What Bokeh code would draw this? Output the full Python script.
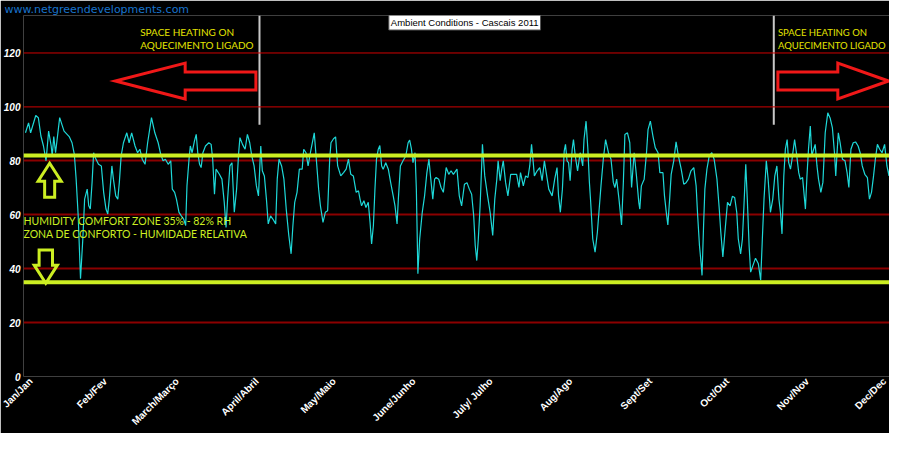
import math
from bokeh.plotting import figure
from bokeh.models import Span, Label, FixedTicker, Range1d
from bokeh.embed import file_html
from bokeh.resources import INLINE

# ---------------- data ----------------
days = [0, 1.2, 2, 4, 5, 6, 7, 8, 9, 10, 10.4, 11, 11.7, 13.3, 15, 17, 18.1, 19, 19.7, 20.5,
        21.4, 22.3, 23, 24, 24.6, 25.2, 25.9, 26.5, 27.1, 28.4, 29.5, 30.4, 31.3, 32, 32.6, 33.6,
        34.2, 35.1, 35.9, 36.5, 37.2, 38.1, 39.4, 40.3, 41.3, 42.6, 43.6, 44.5, 45.4, 46.5, 47.5,
        49, 50.3, 51.6, 52.6, 53.5, 54.4, 55.5, 56.5, 57.1, 58, 58.7, 59.7, 60.6, 61.5, 62.3, 62.8,
        63.6, 64.1, 64.8, 65.7, 66.4, 67, 67.7, 68.3, 69, 70, 71.3, 72.2, 72.8, 73.5, 74.1, 75.4,
        76.4, 77.3, 78, 78.6, 79.5, 80.3, 81.2, 82.1, 82.9, 83.4, 84.4, 85.4, 86.3, 87.2, 88, 88.9,
        89.8, 90.6, 91.5, 92.1, 92.9, 93.7, 94.4, 95.3, 96.2, 97.3, 97.9, 98.6, 99.6, 100.5, 101.4,
        102.4, 103.3, 104, 104.7, 105.6, 106.5, 107.6, 108.2, 109.1, 109.9, 110.8, 112.3, 113.1,
        114, 114.7, 115.7, 116.6, 117.5, 118.3, 118.8, 119.8, 120.6, 121.4, 122.6, 123.7, 124.7,
        125.6, 126.5, 127.5, 128.6, 129.5, 130.1, 130.7, 131.6, 132.4, 133.3, 134, 134.6, 135.3,
        135.9, 136.5, 137.2, 137.8, 138.5, 139.1, 140.1, 141.1, 142, 143, 143.7, 144.5, 145, 145.8,
        146.8, 147.9, 148.8, 149.4, 150.1, 150.7, 151.5, 152, 152.6, 153.3, 154.3, 155.2, 156.1,
        156.9, 157.5, 158.4, 159.1, 159.7, 160.7, 161.6, 162.5, 163.6, 164.6, 165.5, 166.4, 167.8,
        168.7, 169.6, 170.7, 171.7, 172.6, 173.5, 174.3, 174.9, 175.5, 176.1, 176.8, 177.4, 177.7,
        178.6, 179.7, 180.7, 181.7, 182.5, 183.3, 183.8, 184.6, 185.2, 185.8, 186.7, 187.6, 188.7,
        190, 191, 191.9, 192.5, 193.6, 194.5, 195.4, 196.1, 196.8, 197.4, 197.9, 199, 200, 200.9,
        201.8, 202.6, 203.5, 204.8, 205.8, 206.7, 207.3, 208, 208.8, 209.5, 210, 210.6, 211.2,
        211.8, 212.6, 213.1, 213.8, 214.7, 215.7, 216.7, 217.2, 218, 218.7, 219.3, 219.8, 220.6,
        221.5, 222.4, 223.8, 224.7, 225.6, 226.7, 227.7, 228.6, 229.2, 229.9, 230.8, 231.8, 232.5,
        233.1, 234.1, 235, 235.7, 236.7, 237.6, 238.5, 238.9, 239.5, 240.6, 241.5, 242.1, 243, 244,
        244.9, 246, 246.7, 247.9, 248.5, 249.2, 249.8, 250.5, 251.1, 252.1, 253, 253.9, 255, 256,
        256.9, 257.8, 258.8, 259.9, 260.8, 261.4, 262.1, 262.7, 263.1, 263.7, 264.2, 265, 265.9,
        266.9, 267.8, 268.9, 269.8, 270.4, 271.2, 272, 273, 274, 274.9, 275.8, 276.6, 277.2, 278.1,
        278.8, 279.4, 280.1, 280.7, 281.4, 282, 282.9, 283.9, 285, 285.9, 286.5, 287.2, 288.1,
        288.8, 289.7, 290.6, 291.4, 292.2, 293, 293.6, 294.2, 294.9, 295.5, 296.2, 296.8, 297.5,
        298.1, 299.1, 299.8, 300.7, 301.3, 302.2, 303.3, 303.9, 304.5, 305.2, 305.8, 306.5, 307.1,
        307.8, 308.4, 309.3, 310.1, 311, 312, 312.9, 313.8, 314.6, 315.1, 315.6, 316.1, 316.8,
        317.7, 318.7, 319.5, 320.2, 321, 321.9, 322.8, 323.8, 324.6, 325.4, 326.4, 327.4, 328.2,
        329, 329.8, 330.5, 331.3, 332.2, 333.1, 334.1, 335, 335.8, 336.7, 337.7, 338.3, 339,
        339.9, 340.6]
rh = [90.4, 94.1, 90.4, 96.8, 96, 89.2, 85.5, 80, 91, 85.5, 81.8, 89, 83, 96, 91, 89, 86.7, 82.4,
      73.2, 59.6, 36.3, 51, 65.8, 69.5, 63.3, 62.1, 72, 83, 81.2, 78.7, 78.1, 68.3, 62.1, 60.3,
      65.8, 78.1, 73.2, 67, 65.8, 72, 81.8, 86.7, 90.4, 86.7, 90.4, 85.5, 83, 84.3, 80.6, 78.7,
      86.7, 96, 90.4, 86.7, 82.4, 80, 80.6, 78.7, 80, 69.5, 68.3, 65.8, 60.9, 59.6, 58.4, 56,
      70.7, 80.6, 85.5, 83, 87.3, 89.8, 83, 78.7, 77.5, 83, 85.5, 86.7, 86.1, 80.6, 67.6, 76.9,
      75, 73.2, 64.6, 55.3, 65.8, 78.1, 79.3, 60.9, 69.5, 83, 88.6, 86.1, 84.3, 89.8, 86.7, 81.8,
      78.1, 70.7, 67, 85.5, 76.3, 74.4, 65.8, 56.6, 59.6, 58.4, 56.6, 73.2, 80.6, 78.1, 73.2,
      62.1, 52.3, 45.5, 56, 64.6, 68.3, 76.9, 76.9, 84.3, 83, 78.1, 83, 90.4, 80.6, 69.5, 63.3,
      57.2, 60.9, 61.5, 80.6, 86.7, 88.2, 88.9, 78.1, 74.4, 75.6, 76.9, 80.6, 75, 74.4, 68.3,
      68.9, 65.8, 63.3, 65.2, 62.7, 64.6, 57.2, 49.2, 56, 69.5, 80.6, 84.3, 85.7, 78.1, 76.9,
      79.3, 76.9, 72, 67, 63.3, 56.6, 65.8, 78.1, 80, 81.8, 86.7, 87.7, 84.3, 79.3, 83, 69.5,
      38.1, 51, 60.9, 67, 75.6, 80.6, 74.4, 65.8, 73.2, 73.8, 73.2, 70.1, 68.3, 77.5, 75, 76.3,
      75, 76.9, 67, 63.3, 71.3, 71.9, 69.5, 67.6, 59.6, 48.6, 43, 51, 63.3, 78.1, 86.1, 74.4, 67,
      60.9, 52.3, 65.8, 73.2, 80, 72.6, 76.9, 80, 72, 67, 75, 75, 75, 70.1, 75.6, 70.7, 74.4,
      73.8, 78.1, 86.1, 80, 74.4, 76.3, 77.5, 72.6, 80, 75, 69.5, 67, 73.2, 77.5, 67, 60.9, 69.5,
      83.6, 86.1, 80, 79.3, 72.6, 84.3, 87.9, 81.8, 76.3, 83, 78.1, 87.9, 94.7, 84.3, 72, 64.6,
      51, 46.1, 53.5, 70.7, 80.6, 87.9, 83, 80.6, 72, 70.1, 73.2, 65.8, 56.2, 72, 89.8, 90.4,
      86.7, 70.1, 83, 74.4, 64.6, 62.1, 70.7, 73.2, 83, 91.6, 94.7, 89.2, 84.9, 83, 75.6, 75.6,
      67, 60.9, 56.2, 65.8, 75, 80, 87, 81.8, 76.9, 71.3, 71.9, 73.2, 76.3, 77.5, 70.7, 59.6,
      48.6, 42.4, 37.5, 56, 69.5, 76.9, 81.8, 83, 80.6, 73.2, 62.1, 53.5, 44.3, 53.5, 64.6, 63.3,
      66.8, 66.4, 60.9, 51, 45.5, 51, 63.3, 78.7, 65.8, 48.6, 38.7, 41.2, 43.9, 41.8, 35.7, 49.8,
      65.8, 80, 73.2, 60.9, 65.8, 74.4, 78.1, 65.8, 60.9, 52.9, 74.4, 84.3, 87.9, 79.3, 76.9,
      80.6, 87.9, 83, 75.6, 73.2, 73.8, 62.1, 74.4, 84.3, 92.9, 81.8, 84.3, 86.1, 78.1, 73.2,
      68.3, 72, 90.4, 97.8, 95.9, 92.2, 83, 74.4, 83, 90.4, 86.7, 80.6, 80, 75.6, 70.1, 84.3,
      86.7, 87, 85.5, 83, 78.1, 75, 73.8, 65.8, 68.3, 74.4, 80.6, 86.1, 84.3, 83, 86.1, 78.1,
      74.4, 84.3, 87.9, 89.8, 84.3, 81.2, 79.3]

month_ticks = [0, 31, 59, 90, 120, 151, 181, 212, 243, 273, 304, 334]
month_labels = ["Jan/Jan", "Feb/Fev", "March/Março", "April/Abril", "May/Maio",
                "June/Junho", "July/ Julho", "Aug/Ago", "Sept/Set", "Oct/Out",
                "Nov/Nov", "Dec/Dec"]
y_ticks = [0, 20, 40, 60, 80, 100, 120]

comfort_low = 35
comfort_high = 82
heating_end_day = 91
heating_start_day = 291

title_text = "Ambient Conditions - Cascais 2011"
url_text = "www.netgreendevelopments.com"
heating_lines = ["SPACE HEATING ON", "AQUECIMENTO LIGADO"]
comfort_lines = ["HUMIDITY COMFORT ZONE 35% - 82% RH", "ZONA DE CONFORTO - HUMIDADE RELATIVA"]

# ---------------- styling ----------------
BG = "black"
CYAN = "#1ED8D8"
LIME = "#CCEE22"
YELLOW = "#E4E400"
RED = "#F01818"

X0, X1 = -0.77, 336.0
Y0, Y1 = 0, 133.9

p = figure(width=889, height=433, output_backend="svg", toolbar_location=None,
           x_range=Range1d(X0, X1), y_range=Range1d(Y0, Y1),
           min_border_left=0, min_border_right=0, min_border_top=0,
           min_border_bottom=56)
p.background_fill_color = BG
p.border_fill_color = BG
p.outline_line_color = None

# URL as the figure title (top-left)
p.title.text = url_text
p.title.align = "left"
p.title.offset = -19
p.title.standoff = 0
p.title.text_color = "#1874CD"
p.title.text_font = "DejaVu Sans"
p.title.text_font_size = "11px"
p.title.text_font_style = "normal"

# axes
p.xaxis.ticker = FixedTicker(ticks=month_ticks)
p.xaxis.major_label_overrides = {t: l for t, l in zip(month_ticks, month_labels)}
p.xaxis.major_label_orientation = math.pi / 4
p.xaxis.major_label_text_color = "white"
p.xaxis.major_label_text_font = "Liberation Sans"
p.xaxis.major_label_text_font_style = "bold"
p.xaxis.major_label_text_font_size = "10px"
p.xaxis.axis_line_color = None
p.xaxis.major_tick_line_color = None
p.xaxis.minor_tick_line_color = None
p.xaxis.major_tick_out = 0
p.xaxis.minor_tick_out = 0
p.xaxis.major_label_standoff = 3

p.yaxis.ticker = FixedTicker(ticks=y_ticks)
p.yaxis.major_label_text_color = "white"
p.yaxis.major_label_text_font = "Liberation Sans"
p.yaxis.major_label_text_font_style = "bold italic"
p.yaxis.major_label_text_font_size = "10px"
p.yaxis.axis_line_color = None
p.yaxis.major_tick_line_color = None
p.yaxis.minor_tick_line_color = None
p.yaxis.major_tick_out = 0
p.yaxis.minor_tick_out = 0
p.yaxis.major_label_standoff = 3

# grid
p.xgrid.visible = False
p.ygrid.ticker = FixedTicker(ticks=[t for t in y_ticks if 0 < t < 100])
p.ygrid.grid_line_color = "#8B0000"
p.ygrid.grid_line_width = 2
for t in y_ticks:
    if t >= 100:
        p.add_layout(Span(location=t, dimension="width", line_color="#D00000", line_width=1))

# data line
p.line(days, rh, line_color=CYAN, line_width=1.2)

# comfort zone bounds
for lvl in (comfort_high, comfort_low):
    p.add_layout(Span(location=lvl, dimension="width", line_color=LIME, line_width=4))

# heating period markers
p.segment(x0=[heating_end_day, heating_start_day], y0=[93.4, 93.4],
          x1=[heating_end_day, heating_start_day], y1=[Y1, Y1],
          line_color="#C8C8C8", line_width=2)


def h_arrow(tail_x, head_x, tip_x, cy, shaft_h, head_h):
    xs = [tail_x, head_x, head_x, tip_x, head_x, head_x, tail_x, tail_x]
    ys = [cy + shaft_h, cy + shaft_h, cy + head_h, cy, cy - head_h, cy - shaft_h, cy - shaft_h, cy + shaft_h]
    return xs, ys


def v_arrow(cx, tail_y, head_y, tip_y, shaft_w, head_w):
    xs = [cx - shaft_w, cx - shaft_w, cx - head_w, cx, cx + head_w, cx + shaft_w, cx + shaft_w, cx - shaft_w]
    ys = [tail_y, head_y, head_y, tip_y, head_y, head_y, tail_y, tail_y]
    return xs, ys


for xs, ys in [h_arrow(heating_end_day - 1.4, 62.1, 34.9, 109.6, 3.3, 6.65),
               h_arrow(heating_start_day + 1.6, 315.9, 335.6, 109.6, 3.3, 6.65)]:
    p.patch(xs, ys, fill_alpha=0, line_color=RED, line_width=3, line_join="miter")

for xs, ys in [v_arrow(9.4, 66.5, 72.4, 79.1, 1.95, 4.5),
               v_arrow(7.9, 46.9, 41.3, 34.6, 2.6, 4.5)]:
    p.patch(xs, ys, fill_alpha=0, line_color=LIME, line_width=3, line_join="miter")

# texts
p.add_layout(Label(x=170.8, y=131.3, text=title_text, text_color="black",
                   text_font="Liberation Sans", text_font_size="9.5px",
                   text_align="center", text_baseline="middle",
                   background_fill_color="white", border_line_color="#555555",
                   padding=2))

for hx, fs in ((44.6, "10px"), (292.6, "9.5px")):
    for txt, yy in zip(heating_lines, (127.7, 122.9)):
        p.add_layout(Label(x=hx, y=yy, text=txt, text_color=YELLOW, text_font="Lato",
                           text_font_size=fs, text_baseline="middle", text_align="left"))

for txt, yy in zip(comfort_lines, (57.7, 53.0)):
    p.add_layout(Label(x=X0, y=yy, text=txt, text_color=LIME, text_font="Lato",
                       text_font_size="10.5px", text_baseline="middle", text_align="left"))

open("out.html", "w").write(file_html(p, INLINE))
